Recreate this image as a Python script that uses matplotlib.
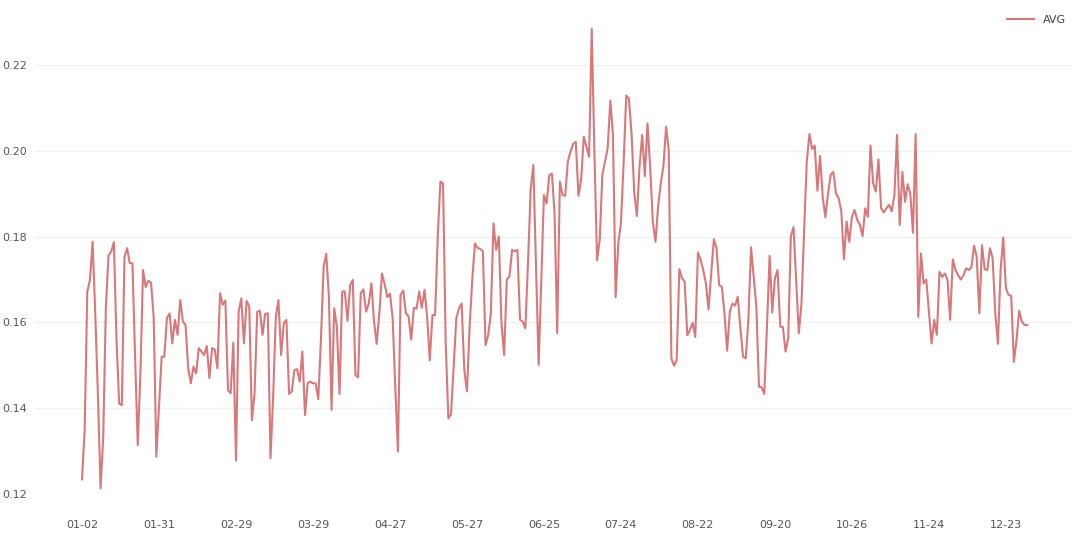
import matplotlib
matplotlib.use("Agg")
import matplotlib.pyplot as plt
import pandas as pd

# -----------------------------
# Data
# -----------------------------
start_date = "2024-01-02"
end_date = "2024-12-31"
closed_days = ["2024-05-01", "2024-10-01", "2024-10-02", "2024-10-03",
               "2024-10-04", "2024-10-05", "2024-10-06", "2024-10-07"]

avg = [
    0.1234, 0.1349, 0.1672, 0.1699, 0.1788, 0.1620, 0.1430, 0.1213, 0.1334, 0.1637,
    0.1757, 0.1765, 0.1787, 0.1559, 0.1411, 0.1407, 0.1753, 0.1773, 0.1738, 0.1738,
    0.1520, 0.1314, 0.1480, 0.1722, 0.1682, 0.1697, 0.1693, 0.1613, 0.1287, 0.1404,
    0.1520, 0.1520, 0.1610, 0.1621, 0.1551, 0.1606, 0.1571, 0.1652, 0.1602, 0.1594,
    0.1493, 0.1458, 0.1497, 0.1481, 0.1540, 0.1532, 0.1524, 0.1545, 0.1470, 0.1540,
    0.1537, 0.1493, 0.1668, 0.1641, 0.1651, 0.1442, 0.1435, 0.1553, 0.1278, 0.1625,
    0.1656, 0.1551, 0.1650, 0.1637, 0.1372, 0.1435, 0.1625, 0.1627, 0.1571, 0.1620,
    0.1621, 0.1283, 0.1427, 0.1613, 0.1652, 0.1524, 0.1598, 0.1606, 0.1433, 0.1439,
    0.1489, 0.1491, 0.1462, 0.1532, 0.1384, 0.1458, 0.1462, 0.1458, 0.1458, 0.1421,
    0.1560, 0.1730, 0.1760, 0.1660, 0.1396, 0.1633, 0.1590, 0.1433, 0.1672, 0.1672,
    0.1604, 0.1687, 0.1699, 0.1477, 0.1472, 0.1668, 0.1677, 0.1625, 0.1644, 0.1691,
    0.1602, 0.1550, 0.1622, 0.1714, 0.1689, 0.1659, 0.1667, 0.1611, 0.1450, 0.1299,
    0.1664, 0.1674, 0.1621, 0.1614, 0.1560, 0.1634, 0.1632, 0.1672, 0.1634, 0.1676,
    0.1613, 0.1512, 0.1617, 0.1617, 0.1800, 0.1928, 0.1924, 0.1550, 0.1376, 0.1386,
    0.1497, 0.1610, 0.1633, 0.1644, 0.1489, 0.1439, 0.1590, 0.1699, 0.1784, 0.1774,
    0.1771, 0.1766, 0.1547, 0.1570, 0.1621, 0.1831, 0.1769, 0.1800, 0.1598, 0.1524,
    0.1700, 0.1707, 0.1769, 0.1766, 0.1769, 0.1606, 0.1602, 0.1586, 0.1740, 0.1909,
    0.1967, 0.1730, 0.1501, 0.1700, 0.1897, 0.1877, 0.1943, 0.1947, 0.1854, 0.1575,
    0.1928, 0.1897, 0.1895, 0.1975, 0.1998, 0.2016, 0.2021, 0.1895, 0.1932, 0.2033,
    0.2009, 0.1986, 0.2284, 0.2000, 0.1745, 0.1792, 0.1944, 0.1975, 0.2006, 0.2117,
    0.2037, 0.1659, 0.1784, 0.1831, 0.1970, 0.2129, 0.2121, 0.2040, 0.1904, 0.1848,
    0.1963, 0.2037, 0.1941, 0.2064, 0.1963, 0.1835, 0.1788, 0.1870, 0.1924, 0.1963,
    0.2056, 0.2002, 0.1516, 0.1499, 0.1512, 0.1724, 0.1703, 0.1695, 0.1570, 0.1582,
    0.1599, 0.1566, 0.1763, 0.1746, 0.1722, 0.1691, 0.1630, 0.1714, 0.1794, 0.1773,
    0.1687, 0.1683, 0.1621, 0.1534, 0.1625, 0.1644, 0.1639, 0.1660, 0.1586, 0.1520,
    0.1516, 0.1606, 0.1775, 0.1707, 0.1636, 0.1450, 0.1449, 0.1433, 0.1590, 0.1755,
    0.1623, 0.1703, 0.1722, 0.1590, 0.1589, 0.1532, 0.1563, 0.1801, 0.1822, 0.1700,
    0.1575, 0.1644, 0.1815, 0.1975, 0.2039, 0.2004, 0.2012, 0.1907, 0.1988, 0.1893,
    0.1845, 0.1900, 0.1944, 0.1951, 0.1900, 0.1890, 0.1859, 0.1747, 0.1835, 0.1788,
    0.1846, 0.1862, 0.1839, 0.1827, 0.1801, 0.1866, 0.1846, 0.2012, 0.1924, 0.1905,
    0.1980, 0.1866, 0.1856, 0.1866, 0.1874, 0.1859, 0.1897, 0.2037, 0.1827, 0.1951,
    0.1881, 0.1922, 0.1900, 0.1809, 0.2039, 0.1613, 0.1761, 0.1691, 0.1700, 0.1625,
    0.1551, 0.1606, 0.1571, 0.1718, 0.1706, 0.1714, 0.1700, 0.1606, 0.1747, 0.1722,
    0.1710, 0.1700, 0.1710, 0.1726, 0.1722, 0.1728, 0.1779, 0.1753, 0.1621, 0.1780,
    0.1724, 0.1722, 0.1773, 0.1750, 0.1621, 0.1550, 0.1722, 0.1798, 0.1680, 0.1664,
    0.1662, 0.1508, 0.1559, 0.1627, 0.1602, 0.1594, 0.1594,
]
y_ticks = [0.12, 0.14, 0.16, 0.18, 0.20, 0.22]

dates = pd.date_range(start_date, end_date)
dates = dates[~dates.isin(pd.to_datetime(closed_days))]
labels = [d.strftime("%m-%d") for d in dates]
x = list(range(len(avg)))

# -----------------------------
# Chart
# -----------------------------
fig = plt.figure(figsize=(10.8, 5.37), dpi=100)
ax = fig.add_axes([35 / 1080, 43 / 537, 1037 / 1080, 429 / 537])

ax.plot(x, avg, color="#d9787a", linewidth=1.5, label="AVG", clip_on=False)

ax.set_xlim(-17.7, 372.9)
ax.set_ylim(0.12, 0.22)
ax.set_yticks(y_ticks)
ax.set_yticklabels([f"{v:.2f}" for v in y_ticks])
ax.set_xticks(x[::29])
ax.set_xticklabels(labels[::29])

ax.grid(axis="y", color="#f0f0f0", linewidth=1)
ax.set_axisbelow(True)
for s in ax.spines.values():
    s.set_visible(False)
ax.tick_params(axis="both", length=0, labelsize=8, labelcolor="#555555")
ax.tick_params(axis="x", pad=19)
ax.tick_params(axis="y", pad=6)

fig.legend(loc="upper right", bbox_to_anchor=(1076 / 1080, 1 - 5 / 537),
           frameon=False, fontsize=8, handlelength=2.4, labelcolor="#444444")

plt.savefig("out.png")
plt.close()
